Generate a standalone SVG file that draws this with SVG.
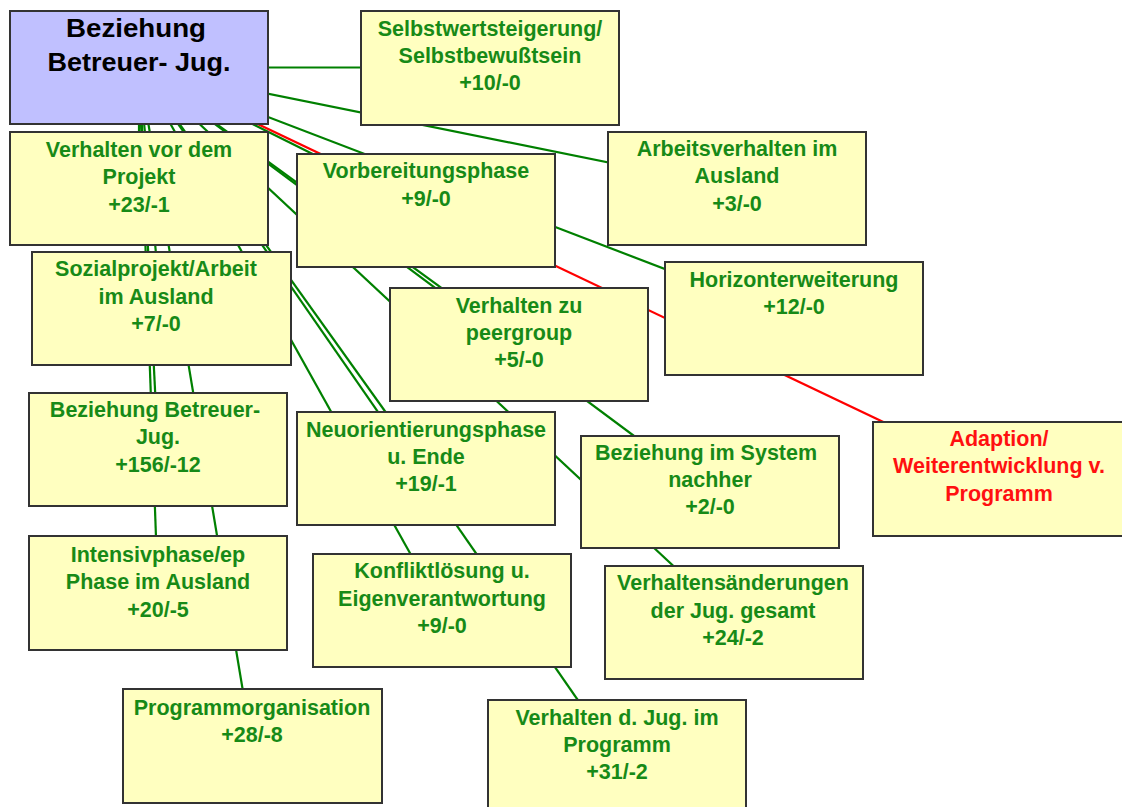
<svg xmlns="http://www.w3.org/2000/svg" width="1122" height="807" viewBox="0 0 1122 807">
<style>
.bg{fill:#ffffff}
.box{fill:#ffffc0;stroke:#333333;stroke-width:2}
.main{fill:#c0c0ff;stroke:#333333;stroke-width:2}
.ln{stroke:#008000;stroke-width:2.2;fill:none}
.red{stroke:#ff0000;stroke-width:2.2;fill:none}
text{font-family:"Liberation Sans",Arial,sans-serif;font-weight:bold;text-anchor:middle}
.t{font-size:21.5px;fill:#178a17}
.tr{font-size:21.5px;fill:#ff1010}
.tm{font-size:26px;fill:#000000}
</style>
<rect class="bg" x="0" y="0" width="1122" height="807"/>
<g id="connectors">
<line class="ln" x1="139" y1="67.5" x2="490" y2="67.5"/>
<line class="ln" x1="139" y1="67.5" x2="737" y2="188.5"/>
<line class="ln" x1="139" y1="67.5" x2="139" y2="188.5"/>
<line class="ln" x1="139" y1="67.5" x2="426" y2="210.5"/>
<line class="ln" x1="139" y1="67.5" x2="794" y2="318.5"/>
<line class="ln" x1="139" y1="67.5" x2="161" y2="308.5"/>
<line class="ln" x1="139" y1="67.5" x2="519" y2="344.5"/>
<line class="ln" x1="139" y1="67.5" x2="158" y2="449.5"/>
<line class="ln" x1="139" y1="67.5" x2="426" y2="468.5"/>
<line class="ln" x1="139" y1="67.5" x2="710" y2="492.5"/>
<line class="ln" x1="139" y1="67.5" x2="158" y2="592.5"/>
<line class="ln" x1="139" y1="67.5" x2="442" y2="610.5"/>
<line class="ln" x1="139" y1="67.5" x2="734" y2="622.5"/>
<line class="ln" x1="139" y1="67.5" x2="252" y2="745.5"/>
<line class="ln" x1="139" y1="67.5" x2="617" y2="756.5"/>
<line class="red" x1="139" y1="67.5" x2="1002" y2="478.5"/>
</g>
<g id="n-main"><rect class="main" x="10" y="11" width="258" height="113"/>
<text class="tm" x="136" y="37" textLength="140" lengthAdjust="spacingAndGlyphs">Beziehung</text>
<text class="tm" x="139" y="71" textLength="183" lengthAdjust="spacingAndGlyphs">Betreuer- Jug.</text></g>
<g id="n-selbstwert"><rect class="box" x="361" y="11" width="258" height="114"/>
<text class="t" x="490" y="36">Selbstwertsteigerung/</text><text class="t" x="490" y="63">Selbstbewußtsein</text><text class="t" x="490" y="90">+10/-0</text></g>
<g id="n-arbeitsverhalten"><rect class="box" x="608" y="132" width="258" height="113"/>
<text class="t" x="737" y="156">Arbeitsverhalten im</text><text class="t" x="737" y="183">Ausland</text><text class="t" x="737" y="211">+3/-0</text></g>
<g id="n-vorher"><rect class="box" x="10" y="132" width="258" height="113"/>
<text class="t" x="139" y="157">Verhalten vor dem</text><text class="t" x="139" y="184">Projekt</text><text class="t" x="139" y="212">+23/-1</text></g>
<g id="n-vorbereitung"><rect class="box" x="297" y="154" width="258" height="113"/>
<text class="t" x="426" y="178">Vorbereitungsphase</text><text class="t" x="426" y="206">+9/-0</text></g>
<g id="n-horizont"><rect class="box" x="665" y="262" width="258" height="113"/>
<text class="t" x="794" y="287">Horizonterweiterung</text><text class="t" x="794" y="314">+12/-0</text></g>
<g id="n-sozialprojekt"><rect class="box" x="32" y="252" width="259" height="113"/>
<text class="t" x="156" y="276">Sozialprojekt/Arbeit</text><text class="t" x="156" y="304">im Ausland</text><text class="t" x="156" y="331">+7/-0</text></g>
<g id="n-peergroup"><rect class="box" x="390" y="288" width="258" height="113"/>
<text class="t" x="519" y="313">Verhalten zu</text><text class="t" x="519" y="340">peergroup</text><text class="t" x="519" y="367">+5/-0</text></g>
<g id="n-adaption"><rect class="box" x="873" y="422" width="258" height="114"/>
<text class="tr" x="999" y="446">Adaption/</text><text class="tr" x="999" y="473">Weiterentwicklung v.</text><text class="tr" x="999" y="501">Programm</text></g>
<g id="n-beziehung"><rect class="box" x="29" y="393" width="258" height="113"/>
<text class="t" x="155" y="417">Beziehung Betreuer-</text><text class="t" x="158" y="444">Jug.</text><text class="t" x="158" y="472">+156/-12</text></g>
<g id="n-neuorientierung"><rect class="box" x="297" y="412" width="258" height="113"/>
<text class="t" x="426" y="437">Neuorientierungsphase</text><text class="t" x="426" y="464">u. Ende</text><text class="t" x="426" y="491">+19/-1</text></g>
<g id="n-system"><rect class="box" x="581" y="436" width="258" height="112"/>
<text class="t" x="706" y="460">Beziehung im System</text><text class="t" x="710" y="487">nachher</text><text class="t" x="710" y="514">+2/-0</text></g>
<g id="n-intensiv"><rect class="box" x="29" y="536" width="258" height="114"/>
<text class="t" x="158" y="562">Intensivphase/ep</text><text class="t" x="158" y="589">Phase im Ausland</text><text class="t" x="158" y="617">+20/-5</text></g>
<g id="n-konflikt"><rect class="box" x="313" y="554" width="258" height="113"/>
<text class="t" x="442" y="578">Konfliktlösung u.</text><text class="t" x="442" y="606">Eigenverantwortung</text><text class="t" x="442" y="633">+9/-0</text></g>
<g id="n-aenderungen"><rect class="box" x="605" y="566" width="258" height="113"/>
<text class="t" x="733" y="590">Verhaltensänderungen</text><text class="t" x="733" y="618">der Jug. gesamt</text><text class="t" x="733" y="645">+24/-2</text></g>
<g id="n-programmorganisation"><rect class="box" x="123" y="689" width="259" height="114"/>
<text class="t" x="252" y="715">Programmorganisation</text><text class="t" x="252" y="742">+28/-8</text></g>
<g id="n-programm"><rect class="box" x="488" y="700" width="258" height="113"/>
<text class="t" x="617" y="725">Verhalten d. Jug. im</text><text class="t" x="617" y="752">Programm</text><text class="t" x="617" y="779">+31/-2</text></g>
</svg>
